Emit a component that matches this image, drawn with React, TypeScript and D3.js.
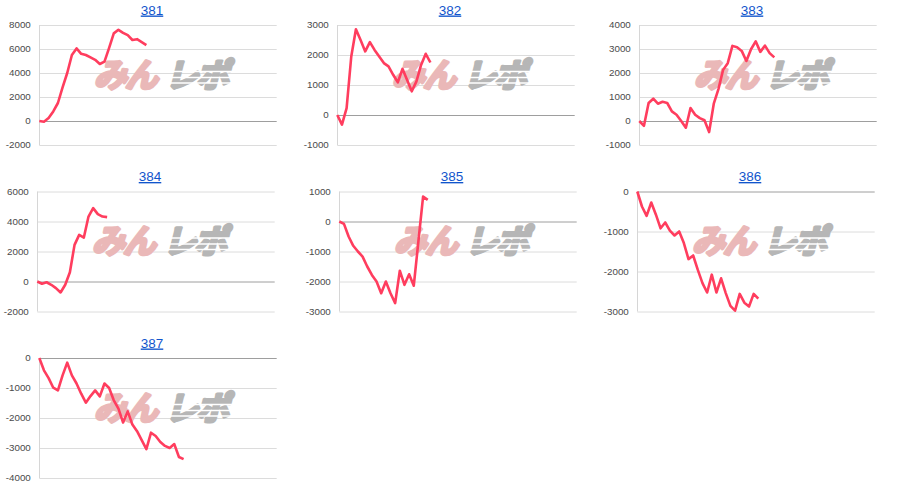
import React from "react";
import * as d3 from "d3";

const TITLES = ["381", "382", "383", "384", "385", "386", "387"];

const S381 = [0, -60, 250, 800, 1500, 2800, 4000, 5500, 6050, 5600, 5500, 5300, 5100, 4750, 4950, 6100, 7300, 7600, 7350, 7150, 6750, 6820, 6580, 6330];
const S382 = [0, -320, 230, 1950, 2860, 2500, 2120, 2430, 2170, 1950, 1730, 1620, 1340, 1090, 1540, 1170, 790, 1120, 1670, 2040, 1750];
const S383 = [0, -200, 750, 930, 720, 800, 750, 400, 260, 0, -280, 540, 260, 120, 30, -460, 720, 1330, 2130, 2410, 3130, 3070, 2920, 2500, 2990, 3320, 2880, 3140, 2830, 2650];
const S384 = [0, -150, -50, -220, -440, -730, -220, 620, 2440, 3110, 2930, 4330, 4890, 4490, 4330, 4290];
const S385 = [0, -80, -500, -810, -1000, -1170, -1500, -1780, -2000, -2390, -2000, -2390, -2720, -1640, -2110, -1760, -2140, -650, 830, 720];
const S386 = [0, -375, -610, -275, -580, -920, -775, -980, -1100, -1000, -1290, -1690, -1600, -1960, -2290, -2525, -2080, -2525, -2170, -2540, -2860, -2980, -2560, -2780, -2875, -2560, -2680];
const S387 = [0, -410, -670, -990, -1080, -580, -155, -580, -850, -1190, -1490, -1270, -1080, -1280, -850, -1000, -1410, -1690, -2150, -1780, -2220, -2440, -2740, -3040, -2490, -2600, -2800, -2930, -3000, -2870, -3300, -3370];

const T381 = [-2000, 0, 2000, 4000, 6000, 8000];
const T382 = [-1000, 0, 1000, 2000, 3000];
const T383 = [-1000, 0, 1000, 2000, 3000, 4000];
const T384 = [-2000, 0, 2000, 4000, 6000];
const T385 = [-3000, -2000, -1000, 0, 1000];
const T386 = [-3000, -2000, -1000, 0];
const T387 = [-4000, -3000, -2000, -1000, 0];

const SERIES = [S381, S382, S383, S384, S385, S386, S387];
const TICKS = [T381, T382, T383, T384, T385, T386, T387];
const X_MAX = 51;

const W = 900;
const H = 498;
const CELL_W = 300;
const ROW_H = 166.5;
const AREA_L = 39.3;
const AREA_W = 237.4;
const AREA_T = 25;
const AREA_H = 120;
const FONT = "Arial, 'Liberation Sans', sans-serif";
const JP = "'Noto Sans CJK JP', sans-serif";

function Logo() {
  return (
    <g transform="translate(95,63)">
      <g transform="skewX(-14)">
        <text
          x={5}
          y={23.5}
          fontFamily={JP}
          fontWeight={700}
          fontSize={33}
          fill="#eab8b8"
          stroke="#eab8b8"
          strokeWidth={3.2}
          strokeLinejoin="round"
          letterSpacing={-2}
        >
          みん
        </text>
        <text
          x={76}
          y={23.5}
          fontFamily={JP}
          fontWeight={700}
          fontSize={33}
          fill="#b6b6b6"
          stroke="#b6b6b6"
          strokeWidth={3.2}
          strokeLinejoin="round"
          letterSpacing={-2}
        >
          レポ
        </text>
      </g>
      {[8.5, 14.5, 20].map((sy) => (
        <line key={sy} x1={70} x2={150} y1={sy} y2={sy} stroke="#fff" strokeWidth={1.4} />
      ))}
    </g>
  );
}

function Panel({ idx }: { idx: number }) {
  const col = idx % 3;
  const row = Math.floor(idx / 3);
  const shift = idx % 2 === 1 ? -2 : 0;
  const ox = col * CELL_W + shift;
  const oy = row * ROW_H;
  const ticks = TICKS[idx];
  const data = SERIES[idx];
  const x = d3.scaleLinear().domain([0, X_MAX]).range([AREA_L, AREA_L + AREA_W]);
  const y = d3
    .scaleLinear()
    .domain([d3.min(ticks) as number, d3.max(ticks) as number])
    .range([AREA_T + AREA_H, AREA_T]);
  const line = d3
    .line<number>()
    .x((_, i) => x(i))
    .y((d) => y(d));
  return (
    <g transform={`translate(${ox},${oy})`}>
      <text
        x={152}
        y={14.5}
        textAnchor="middle"
        fontFamily={FONT}
        fontSize={13.5}
        fill="#1155cc"
        textDecoration="underline"
      >
        {TITLES[idx]}
      </text>
      {ticks.map((t) => (
        <g key={t}>
          <line
            x1={AREA_L}
            x2={AREA_L + AREA_W}
            y1={Math.round(y(t)) + 0.5}
            y2={Math.round(y(t)) + 0.5}
            stroke={t === 0 ? "#9e9e9e" : "#dcdcdc"}
            strokeWidth={1}
          />
          <text
            x={AREA_L - 8.5}
            y={y(t)}
            dy="0.35em"
            textAnchor="end"
            fontFamily={FONT}
            fontSize={9.8}
            fill="#4a4a4a"
          >
            {t}
          </text>
        </g>
      ))}
      <line
        x1={Math.round(AREA_L) + 0.5}
        x2={Math.round(AREA_L) + 0.5}
        y1={AREA_T}
        y2={AREA_T + AREA_H}
        stroke="#d6d6d6"
        strokeWidth={1}
      />
      <Logo />
      <path
        d={line(data) || ""}
        fill="none"
        stroke="#ff3d5e"
        strokeWidth={2.6}
        strokeLinejoin="round"
      />
    </g>
  );
}

export default function App() {
  return (
    <svg
      width={W}
      height={H}
      style={{ position: "absolute", left: 0, top: 0, background: "#fff" }}
    >
      <rect width={W} height={H} fill="#fff" />
      {SERIES.map((_, i) => (
        <Panel key={i} idx={i} />
      ))}
    </svg>
  );
}
